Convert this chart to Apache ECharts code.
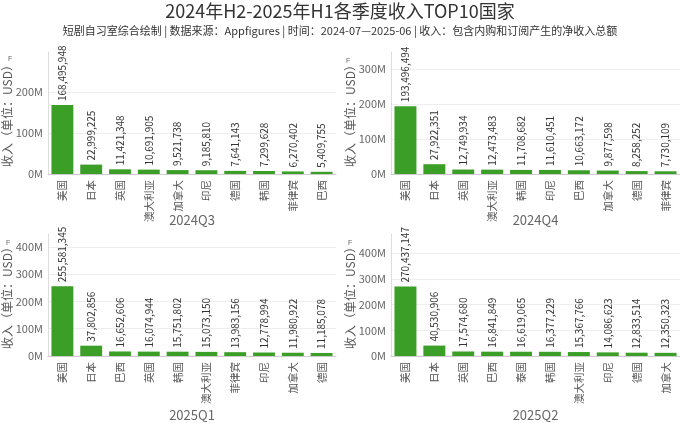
<!DOCTYPE html>
<html>
<head>
<meta charset="utf-8">
<script src="https://cdn.jsdelivr.net/npm/echarts@6/dist/echarts.min.js"></script>
<style>
html,body{margin:0;padding:0;background:#fff;}
#c{width:680px;height:423px;}
</style>
</head>
<body>
<div id="c"></div>
<script>
const titleText = '2024年H2-2025年H1各季度收入TOP10国家';
const subtitleText = '短剧自习室综合绘制 | 数据来源：Appfigures | 时间：2024-07—2025-06 | 收入：包含内购和订阅产生的净收入总额';
const yName = '收入（单位：USD）';

const q1Name = '2024Q3';
const q1Countries = ['美国','日本','英国','澳大利亚','加拿大','印尼','德国','韩国','菲律宾','巴西'];
const q1Values = [168495948, 22999225, 11421348, 10691905, 9521738, 9185810, 7641143, 7299628, 6270402, 5409755];

const q2Name = '2024Q4';
const q2Countries = ['美国','日本','英国','澳大利亚','韩国','印尼','巴西','加拿大','德国','菲律宾'];
const q2Values = [193496494, 27922351, 12749934, 12473483, 11708682, 11610451, 10663172, 9877598, 8258252, 7730109];

const q3Name = '2025Q1';
const q3Countries = ['美国','日本','巴西','英国','韩国','澳大利亚','菲律宾','印尼','加拿大','德国'];
const q3Values = [255581345, 37802856, 16652606, 16074944, 15751802, 15073150, 13983156, 12778994, 11980922, 11185078];

const q4Name = '2025Q2';
const q4Countries = ['美国','日本','英国','巴西','泰国','韩国','澳大利亚','印尼','德国','加拿大'];
const q4Values = [270437147, 40530906, 17574680, 16841849, 16619065, 16377229, 15367766, 14086623, 12833514, 12350323];

const yMaxes = [298e6, 348e6, 447e6, 475e6];

const panels = [
  {name:q1Name, cats:q1Countries, vals:q1Values},
  {name:q2Name, cats:q2Countries, vals:q2Values},
  {name:q3Name, cats:q3Countries, vals:q3Values},
  {name:q4Name, cats:q4Countries, vals:q4Values}
];

const grids = [
  {left:46, right:344, top:52, bottom:249},
  {left:391, right:0, top:52, bottom:249},
  {left:46, right:344, top:234, bottom:63},
  {left:391, right:0, top:234, bottom:63}
];
const xNameGaps = [40, 40, 53, 53];

const chart = echarts.init(document.getElementById('c'));
const fontFam = '"Noto Sans CJK SC","Noto Sans",sans-serif';

const option = {
  animation:false,
  textStyle:{fontFamily:fontFam},
  graphic:[
    {type:'text', left:'center', top:2, style:{text:titleText, fontSize:18, fill:'#333', fontFamily:fontFam}},
    {type:'text', left:'center', top:25, style:{text:subtitleText, fontSize:11, fill:'#333', fontFamily:fontFam}},
    {type:'text', x:8, y:56, style:{text:'F', fontSize:7, fill:'#666'}},
    {type:'text', x:346, y:58, style:{text:'F', fontSize:7, fill:'#666'}},
    {type:'text', x:6, y:240, style:{text:'F', fontSize:7, fill:'#666'}},
    {type:'text', x:348, y:240, style:{text:'F', fontSize:7, fill:'#666'}}
  ],
  grid: grids,
  xAxis: panels.map((p,i)=>({
    type:'category', gridIndex:i, data:p.cats,
    name:p.name, nameLocation:'middle', nameGap:xNameGaps[i], nameMoveOverlap:false,
    nameTextStyle:{color:'#666', fontSize:13},
    axisLine:{lineStyle:{color:'#ccc'}},
    axisTick:{show:false},
    axisLabel:{rotate:90, interval:0, color:'#555', fontSize:10.5, margin:6}
  })),
  yAxis: panels.map((p,i)=>({
    type:'value', gridIndex:i, min:0, max:yMaxes[i], interval:100e6,
    name:yName, nameLocation:'middle', nameGap:35, nameMoveOverlap:false,
    nameTextStyle:{color:'#555', fontSize:12},
    axisLine:{show:true, lineStyle:{color:'#ddd'}},
    axisTick:{show:false},
    axisLabel:{color:'#666', fontSize:11, margin:5, showMaxLabel:false,
      formatter:v=>(v/1e6)+'M'},
    splitLine:{lineStyle:{color:'#eee'}, showMaxLine:false}
  })),
  series: panels.map((p,i)=>({
    type:'bar', xAxisIndex:i, yAxisIndex:i, data:p.vals,
    barCategoryGap:'24%',
    itemStyle:{color:'#3a9e27'},
    label:{show:true, position:'top', rotate:90, align:'left', verticalAlign:'middle',
      distance:4, color:'#333', fontSize:10,
      formatter:o=>o.value.toLocaleString('en-US')}
  }))
};
chart.setOption(option);
</script>
</body>
</html>
